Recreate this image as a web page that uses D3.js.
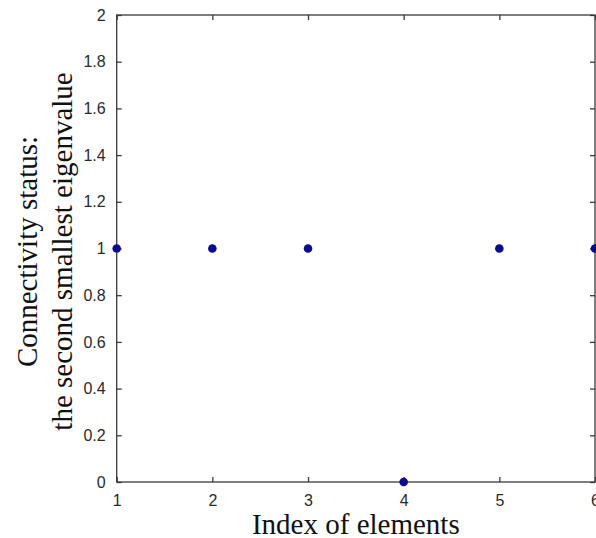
<!DOCTYPE html>
<html>
<head>
<meta charset="utf-8">
<script src="https://cdn.jsdelivr.net/npm/d3@7"></script>
<style>
  html, body { margin: 0; padding: 0; background: #fff; }
  svg { display: block; }
</style>
</head>
<body>
<script>
// ---- data ----
const indices = [1, 2, 3, 4, 5, 6];
const eigenvalues = [1, 1, 1, 0, 1, 1];
const xTicks = [1, 2, 3, 4, 5, 6];
const yTicks = [0, 0.2, 0.4, 0.6, 0.8, 1, 1.2, 1.4, 1.6, 1.8, 2];
const xTitle = "Index of elements";
const yTitleLines = ["Connectivity status:", "the second smallest eigenvalue"];

// ---- layout ----
const W = 596, H = 538;
const pLeft = 116.7, pRight = 595, pTop = 15, pBottom = 482;

const svg = d3.select("body").append("svg").attr("width", W).attr("height", H);

const x = d3.scaleLinear().domain([1, 6]).range([pLeft, pRight]);
const y = d3.scaleLinear().domain([0, 2]).range([pBottom, pTop]);

const axisColor = "#3a3a3a";
const tickLen = 5;

// box
svg.append("rect")
  .attr("x", pLeft).attr("y", pTop)
  .attr("width", pRight - pLeft).attr("height", pBottom - pTop)
  .attr("fill", "none").attr("stroke", axisColor).attr("stroke-width", 1.3);

// axes with inward ticks
const fmt = d => String(+d.toFixed(1));
const gL = svg.append("g").attr("transform", `translate(${pLeft},0)`)
  .call(d3.axisLeft(y).tickValues(yTicks).tickSize(-tickLen).tickPadding(11).tickFormat(fmt));
const gR = svg.append("g").attr("transform", `translate(${pRight},0)`)
  .call(d3.axisRight(y).tickValues(yTicks).tickSize(-tickLen).tickFormat(""));
const gB = svg.append("g").attr("transform", `translate(0,${pBottom})`)
  .call(d3.axisBottom(x).tickValues(xTicks).tickSize(-tickLen).tickPadding(14).tickFormat(d3.format("d")));
const gT = svg.append("g").attr("transform", `translate(0,${pTop})`)
  .call(d3.axisTop(x).tickValues(xTicks).tickSize(-tickLen).tickFormat(""));

[gL, gR, gB, gT].forEach(g => {
  g.select(".domain").remove();
  g.selectAll(".tick line").attr("stroke", axisColor).attr("stroke-width", 1.3);
  g.selectAll(".tick text")
    .attr("fill", "#2a2a2a")
    .style("font-family", "'Liberation Sans', Arial, sans-serif")
    .style("font-size", "16px");
});
gB.selectAll(".tick text").attr("dy", "0.62em");

// points
svg.append("g").selectAll("circle")
  .data(indices.map((d, i) => ({ x: d, y: eigenvalues[i] })))
  .join("circle")
  .attr("cx", d => x(d.x)).attr("cy", d => y(d.y))
  .attr("r", 4.3)
  .attr("fill", "#0b0b8f");

// titles
const serif = "'Liberation Serif', 'Times New Roman', serif";
svg.append("text")
  .attr("x", (pLeft + pRight) / 2).attr("y", 534)
  .attr("text-anchor", "middle")
  .style("font-family", serif).style("font-size", "29px").attr("fill", "#111")
  .text(xTitle);

const yc = (pTop + pBottom) / 2 + 3;
[37, 72].forEach((bx, i) => {
  svg.append("text")
    .attr("transform", `translate(${bx},${yc}) rotate(-90)`)
    .attr("text-anchor", "middle")
    .style("font-family", serif).style("font-size", "29px").attr("fill", "#111")
    .text(yTitleLines[i]);
});
</script>
</body>
</html>
